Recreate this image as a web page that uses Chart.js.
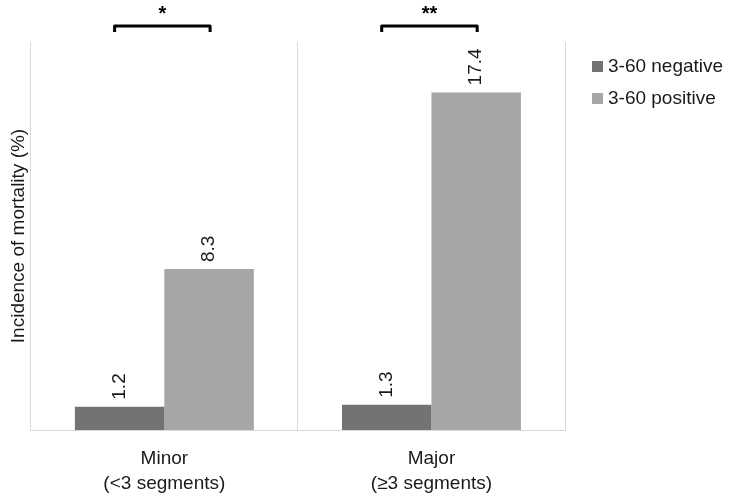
<!DOCTYPE html>
<html>
<head>
<meta charset="utf-8">
<script src="https://cdn.jsdelivr.net/npm/chart.js@4/dist/chart.umd.min.js"></script>
<style>
  body { margin: 0; background: #fff; }
  #wrap { width: 730px; height: 496px; }
</style>
</head>
<body>
<div id="wrap"><canvas id="grafico"></canvas></div>
<script>
var categorias = [['Minor', '(<3 segments)'], ['Major', '(\u22653 segments)']];
var negativo = [1.2, 1.3];
var positivo = [8.3, 17.4];
var nomesSeries = ['3-60 negative', '3-60 positive'];
var significancia = ['*', '**'];

var corNeg = '#737373';
var corPos = '#a6a6a6';
var fonte = '"Liberation Sans", Arial, Helvetica, sans-serif';

// rotulos, colchetes e legenda desenhados por cima
var extras = {
  id: 'extras',
  afterDatasetsDraw: function(chart) {
    var ctx = chart.ctx;
    ctx.save();
    // valores acima das barras, girados
    ctx.font = '19px ' + fonte;
    ctx.fillStyle = '#1a1a1a';
    ctx.textAlign = 'left';
    ctx.textBaseline = 'middle';
    chart.data.datasets.forEach(function(ds, d) {
      chart.getDatasetMeta(d).data.forEach(function(bar, i) {
        ctx.save();
        ctx.translate(bar.x, bar.y - 7);
        ctx.rotate(-Math.PI / 2);
        ctx.fillText(ds.data[i].toFixed(1), 0, 0);
        ctx.restore();
      });
    });
    // colchetes de significancia
    var m0 = chart.getDatasetMeta(0).data;
    var m1 = chart.getDatasetMeta(1).data;
    ctx.strokeStyle = '#000';
    ctx.lineWidth = 3;
    ctx.lineJoin = 'round';
    ctx.lineCap = 'butt';
    for (var i = 0; i < m0.length; i++) {
      var x1 = m0[i].x - 5;
      var x2 = m1[i].x + 1;
      ctx.beginPath();
      ctx.moveTo(x1, 32);
      ctx.lineTo(x1, 26);
      ctx.lineTo(x2, 26);
      ctx.lineTo(x2, 32);
      ctx.stroke();
      ctx.font = 'bold 20px ' + fonte;
      ctx.fillStyle = '#000';
      ctx.textAlign = 'center';
      ctx.textBaseline = 'middle';
      ctx.fillText(significancia[i], (x1 + x2) / 2, 14);
    }
    ctx.restore();
  },
  afterDraw: function(chart) {
    var ctx = chart.ctx;
    ctx.save();
    ctx.font = '19px ' + fonte;
    ctx.textAlign = 'left';
    ctx.textBaseline = 'middle';
    var ys = [66, 98];
    chart.data.datasets.forEach(function(ds, d) {
      ctx.fillStyle = ds.backgroundColor;
      ctx.fillRect(592, ys[d] - 5, 11, 11);
      ctx.fillStyle = '#1a1a1a';
      ctx.fillText(ds.label, 608, ys[d] + 1);
    });
    ctx.restore();
  }
};

var ctx = document.getElementById('grafico').getContext('2d');
var myChart = new Chart(ctx, {
  type: 'bar',
  data: {
    labels: categorias,
    datasets: [
      {
        label: nomesSeries[0],
        data: negativo,
        backgroundColor: corNeg,
        borderWidth: 0,
        categoryPercentage: 0.67,
        barPercentage: 1
      },
      {
        label: nomesSeries[1],
        data: positivo,
        backgroundColor: corPos,
        borderWidth: 0,
        categoryPercentage: 0.67,
        barPercentage: 1
      }
    ]
  },
  options: {
    responsive: true,
    maintainAspectRatio: false,
    animation: false,
    layout: { padding: { top: 42, right: 165, bottom: 0, left: 0 } },
    plugins: {
      legend: { display: false },
      tooltip: { enabled: false }
    },
    scales: {
      x: {
        grid: { offset: true, color: '#d9d9d9', lineWidth: 1, drawTicks: false },
        border: { display: true, color: '#d9d9d9' },
        afterFit: function(scale) { scale.height = 66; },
        ticks: {
          color: '#1a1a1a',
          padding: 17,
          maxRotation: 0,
          font: { family: fonte, size: 19, lineHeight: 1.29 }
        }
      },
      y: {
        min: 0,
        max: 20,
        grid: { display: false, drawTicks: false },
        border: { display: false },
        ticks: { display: false },
        title: {
          display: true,
          text: 'Incidence of mortality (%)',
          color: '#1a1a1a',
          padding: { top: 7, bottom: 1 },
          font: { family: fonte, size: 19 }
        }
      }
    }
  },
  plugins: [extras]
});
</script>
</body>
</html>
